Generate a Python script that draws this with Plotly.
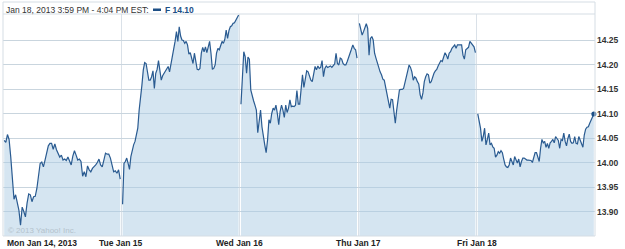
import plotly.graph_objects as go

# Ford (F) intraday prices, five sessions, Jan 14-18 2013
day_labels = ["Mon Jan 14, 2013", "Tue Jan 15", "Wed Jan 16", "Thu Jan 17", "Fri Jan 18"]
y_ticks = [13.90, 13.95, 14.00, 14.05, 14.10, 14.15, 14.20, 14.25]

mon = [14.046, 14.042, 14.058, 14.048, 14.013, 13.972, 13.926, 13.935, 13.918, 13.904,
       13.873, 13.910, 13.901, 13.890, 13.918, 13.937, 13.935, 13.921, 13.931, 13.932,
       13.948, 13.975, 13.999, 14.002, 13.992, 14.006, 14.023, 14.035, 14.040, 14.040,
       14.028, 14.039, 14.027, 14.020, 14.012, 14.016, 14.006, 14.008, 14.005, 14.012,
       14.005, 13.996, 14.014, 14.025, 14.016, 14.006, 14.008, 14.003, 13.973, 13.982,
       13.972, 13.994, 13.986, 13.982, 13.989, 13.992, 13.996, 14.001, 14.008, 13.996,
       13.992, 14.006, 14.020, 14.018, 14.018, 14.010, 13.994, 13.982, 13.984, 13.979,
       13.986, 13.967]
tue = [13.916, 13.999, 14.003, 14.010, 13.999, 13.987, 14.013, 14.027, 14.037, 14.044,
       14.057, 14.071, 14.108, 14.142, 14.159, 14.190, 14.205, 14.203, 14.183, 14.169,
       14.169, 14.176, 14.188, 14.152, 14.183, 14.191, 14.209, 14.183, 14.169, 14.178,
       14.183, 14.186, 14.191, 14.197, 14.186, 14.200, 14.217, 14.232, 14.248, 14.268,
       14.248, 14.278, 14.259, 14.251, 14.250, 14.244, 14.248, 14.241, 14.222, 14.225,
       14.210, 14.203, 14.224, 14.203, 14.191, 14.190, 14.193, 14.224, 14.236, 14.227,
       14.237, 14.225, 14.234, 14.248, 14.224, 14.191, 14.193, 14.200, 14.224, 14.234,
       14.231, 14.241, 14.248, 14.244, 14.252, 14.271, 14.254, 14.270, 14.278, 14.280,
       14.285, 14.286, 14.292, 14.297, 14.302]
wed = [14.120, 14.180, 14.227, 14.217, 14.183, 14.216, 14.212, 14.149, 14.135, 14.127,
       14.118, 14.108, 14.062, 14.091, 14.108, 14.074, 14.050, 14.037, 14.021, 14.047,
       14.088, 14.081, 14.101, 14.112, 14.108, 14.118, 14.101, 14.078, 14.105, 14.118,
       14.108, 14.093, 14.118, 14.103, 14.112, 14.129, 14.115, 14.116, 14.115, 14.118,
       14.148, 14.120, 14.120, 14.149, 14.180, 14.154, 14.169, 14.188, 14.186, 14.176,
       14.169, 14.166, 14.182, 14.197, 14.190, 14.198, 14.193, 14.195, 14.209, 14.176,
       14.193, 14.198, 14.195, 14.197, 14.198, 14.195, 14.198, 14.202, 14.224, 14.203,
       14.200, 14.214, 14.212, 14.203, 14.200, 14.200, 14.207, 14.214, 14.224, 14.232,
       14.241, 14.234, 14.231, 14.214]
thu = [14.285, 14.275, 14.261, 14.268, 14.275, 14.284, 14.275, 14.220, 14.254, 14.258,
       14.251, 14.224, 14.214, 14.203, 14.191, 14.186, 14.180, 14.171, 14.169, 14.156,
       14.143, 14.132, 14.112, 14.130, 14.129, 14.105, 14.081, 14.108, 14.130, 14.149,
       14.150, 14.150, 14.152, 14.166, 14.180, 14.188, 14.200, 14.195, 14.186, 14.169,
       14.176, 14.173, 14.166, 14.161, 14.139, 14.130, 14.143, 14.166, 14.176, 14.182,
       14.180, 14.163, 14.166, 14.176, 14.183, 14.188, 14.191, 14.198, 14.203, 14.209,
       14.207, 14.214, 14.225, 14.220, 14.212, 14.224, 14.227, 14.234, 14.237, 14.241,
       14.234, 14.241, 14.241, 14.241, 14.241, 14.220, 14.212, 14.231, 14.234, 14.236,
       14.248, 14.244, 14.239, 14.237, 14.225]
fri = [14.100, 14.088, 14.071, 14.044, 14.054, 14.071, 14.037, 14.048, 14.061, 14.037,
       14.040, 14.033, 14.030, 14.012, 14.016, 14.023, 14.020, 14.025, 14.021, 14.008,
       13.996, 13.992, 13.991, 13.996, 14.010, 14.003, 13.996, 14.013, 14.005, 14.000,
       14.008, 13.992, 14.003, 14.010, 14.010, 14.008, 14.006, 14.006, 14.006, 14.005,
       14.001, 14.010, 14.021, 14.021, 14.010, 14.003, 14.030, 14.048, 14.041, 14.044,
       14.032, 14.040, 14.030, 14.041, 14.044, 14.048, 14.041, 14.054, 14.050, 14.046,
       14.030, 14.048, 14.046, 14.061, 14.044, 14.035, 14.050, 14.059, 14.044, 14.040,
       14.041, 14.054, 14.040, 14.039, 14.054, 14.046, 14.037, 14.032, 14.057, 14.069,
       14.073, 14.074, 14.081, 14.088, 14.096, 14.100]

days = [mon, tue, wed, thu, fri]

LINE = "#2a5b91"
FILL = "rgba(172,204,227,0.5)"
FONT = "Liberation Sans"

fig = go.Figure()
for d, vals in enumerate(days):
    n = len(vals)
    xs = [d + 0.01 + 0.98 * i / (n - 1) for i in range(n)]
    fig.add_trace(go.Scatter(x=xs, y=vals, mode="lines", fill="tozeroy",
                             fillcolor=FILL, line=dict(color=LINE, width=1.2),
                             hoverinfo="skip", showlegend=False))

last_x = 4 + 0.01 + 0.98
fig.add_trace(go.Scatter(x=[last_x], y=[fri[-1]], mode="markers",
                         marker=dict(color="#1d4f86", size=5),
                         hoverinfo="skip", showlegend=False, cliponaxis=False))

fig.update_layout(
    width=625, height=249,
    margin=dict(l=3, r=30, t=14, b=13),
    paper_bgcolor="white", plot_bgcolor="white",
    xaxis=dict(range=[0, 5], tickvals=[1, 2, 3, 4], showticklabels=False,
               showgrid=True, gridcolor="#dae1e8", gridwidth=1,
               zeroline=False, showline=False, fixedrange=True),
    yaxis=dict(range=[13.851, 14.304], side="right", tickvals=y_ticks,
               tickformat=".2f", showgrid=True, gridcolor="#c9d5de", gridwidth=1,
               zeroline=False, showline=False, ticks="", ticklabelstandoff=1,
               tickfont=dict(family=FONT, size=8.5, color="#333333", weight="bold"),
               fixedrange=True),
    shapes=[
        dict(type="rect", xref="paper", yref="paper", x0=0, x1=1, y0=0, y1=1.054,
             line=dict(color="#d5dde4", width=1), layer="above"),
        dict(type="line", xref="paper", yref="paper", x0=0, x1=1, y0=1, y1=1,
             line=dict(color="#d5dde4", width=1), layer="above"),
        dict(type="rect", xref="paper", yref="paper", x0=0.2534, x1=0.2669,
             y0=1.0135, y1=1.0248, fillcolor="#1d4f86", line=dict(width=0)),
    ],
)

annotations = []
for i, lab in enumerate(day_labels):
    annotations.append(dict(
        x=i, y=-0.0315, xref="x", yref="paper", text=lab, showarrow=False,
        xanchor="left" if i == 0 else "center", yanchor="middle",
        xshift=2 if i == 0 else 0,
        font=dict(family=FONT, size=8.5, color="#222222", weight="bold")))
annotations.append(dict(
    x=0, y=1.018, xref="paper", yref="paper", xanchor="left", yanchor="middle",
    xshift=1, showarrow=False, text="Jan 18, 2013 3:59 PM - 4:04 PM EST:",
    font=dict(family=FONT, size=8.5, color="#333333")))
annotations.append(dict(
    x=0.2703, y=1.018, xref="paper", yref="paper", xanchor="left", yanchor="middle",
    showarrow=False, text=f"F {fri[-1]:.2f}",
    font=dict(family=FONT, size=8.5, color="#1d4f86", weight="bold")))
annotations.append(dict(
    x=0, y=0.027, xref="paper", yref="paper", xanchor="left", yanchor="middle",
    xshift=3, showarrow=False, text="© 2013 Yahoo! Inc.",
    font=dict(family=FONT, size=8, color="#b4c2cc")))
fig.update_layout(annotations=annotations)

fig.write_html("out.html", config={"displayModeBar": False, "staticPlot": True})
